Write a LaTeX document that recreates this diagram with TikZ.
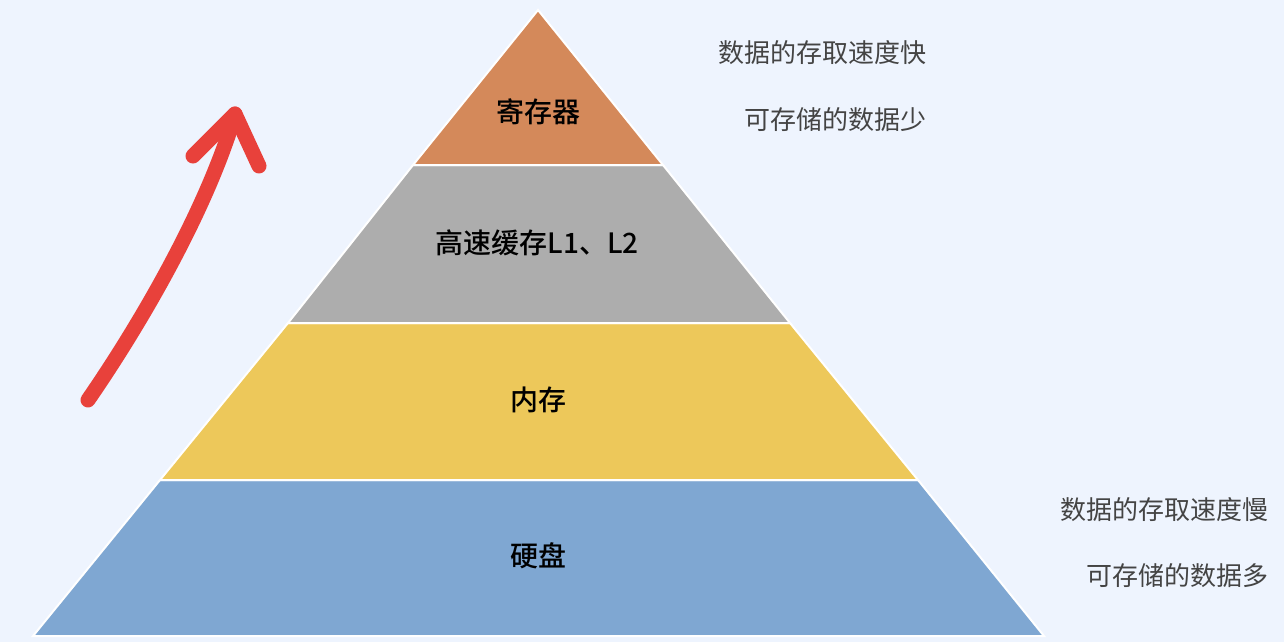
\documentclass[tikz,border=0pt]{standalone}
\usepackage{fontspec}
\newfontfamily\cjk{Noto Sans CJK SC}
\newfontfamily\cjkb{Noto Sans CJK SC Medium}
\definecolor{bg}{HTML}{EEF4FE}
\definecolor{c1}{HTML}{D4895A}
\definecolor{c2}{HTML}{ADADAD}
\definecolor{c3}{HTML}{EDC85A}
\definecolor{c4}{HTML}{7FA7D2}
\definecolor{txt}{HTML}{444444}
\definecolor{arr}{HTML}{E8413B}
\begin{document}
\begin{tikzpicture}[x=1pt,y=-1pt,
  layer/.style={draw=white,line width=2pt,line join=miter},
  lbl/.style={font=\cjkb\fontsize{28}{30}\selectfont,text=black},
  note/.style={font=\cjk\fontsize{26}{28}\selectfont,text=txt,anchor=east}]
\fill[bg] (0,0) rectangle (1284,642);
\useasboundingbox (0,0) rectangle (1284,642);
\fill[c4,layer] (160,480) -- (918,480) -- (1044,636) -- (33,636) -- cycle;
\fill[c3,layer] (288,323) -- (790,323) -- (918,480) -- (160,480) -- cycle;
\fill[c2,layer] (413,165) -- (663,165) -- (790,323) -- (288,323) -- cycle;
\fill[c1,layer] (538,10) -- (663,165) -- (413,165) -- cycle;
\node[lbl] (l1) at (538,112) {寄存器};
\node[lbl] (l2) at (537,243) {高速缓存L1、L2};
\node[lbl] (l3) at (538,400) {内存};
\node[lbl] (l4) at (538,556) {硬盘};
\node[note] (n1) at (930,53) {数据的存取速度快};
\node[note] (n2) at (930,120) {可存储的数据少};
\node[note] (n3) at (1272,510) {数据的存取速度慢};
\node[note] (n4) at (1272,576) {可存储的数据多};
\coordinate (s) at (88,400);
\coordinate (t) at (235,114);
\coordinate (h1) at (193,156);
\coordinate (h2) at (259,166);
\draw[arr,line width=15pt,line cap=round,line join=round]
  (s) .. controls (150,310) and (210,200) .. (t);
\draw[arr,line width=15pt,line cap=round,line join=round] (h1) -- (t) -- (h2);
\end{tikzpicture}
\end{document}
